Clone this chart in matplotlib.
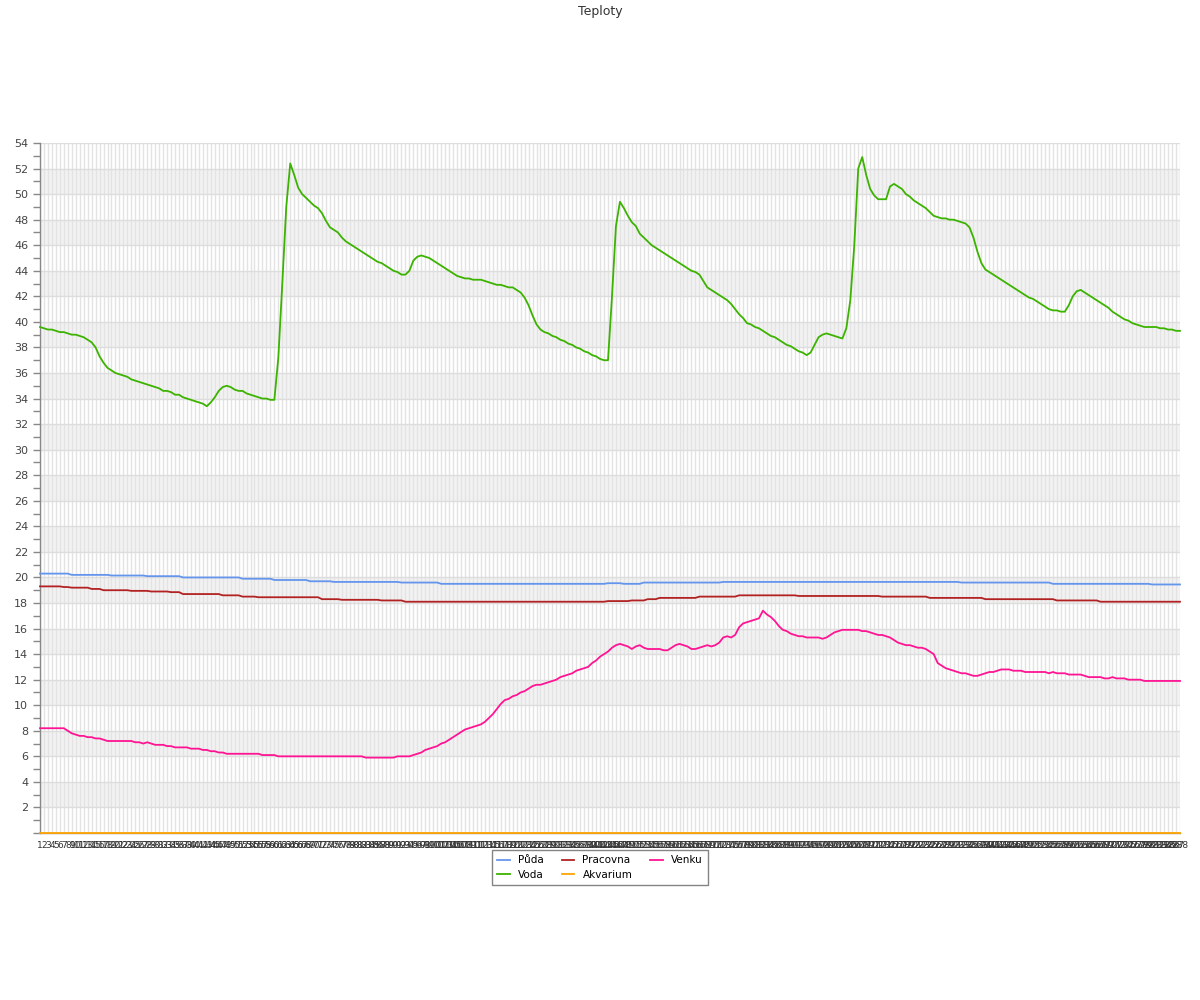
import matplotlib
matplotlib.use("Agg")
import matplotlib.pyplot as plt
from matplotlib.ticker import MultipleLocator

title = "Teploty"
series_names = ["Půda", "Voda", "Pracovna", "Akvarium", "Venku"]
series_colors = ["#6495ed", "#3cb300", "#b22222", "#ffa500", "#ff1493"]

puda = [
    20.3, 20.3, 20.3, 20.3, 20.3, 20.3, 20.3, 20.3, 20.2, 20.2, 20.2, 20.2,
    20.2, 20.2, 20.2, 20.2, 20.2, 20.2, 20.15, 20.15, 20.15, 20.15, 20.15, 20.15,
    20.15, 20.15, 20.15, 20.1, 20.1, 20.1, 20.1, 20.1, 20.1, 20.1, 20.1, 20.1,
    20.0, 20.0, 20.0, 20.0, 20.0, 20.0, 20.0, 20.0, 20.0, 20.0, 20.0, 20.0,
    20.0, 20.0, 20.0, 19.9, 19.9, 19.9, 19.9, 19.9, 19.9, 19.9, 19.9, 19.8,
    19.8, 19.8, 19.8, 19.8, 19.8, 19.8, 19.8, 19.8, 19.7, 19.7, 19.7, 19.7,
    19.7, 19.7, 19.65, 19.65, 19.65, 19.65, 19.65, 19.65, 19.65, 19.65, 19.65, 19.65,
    19.65, 19.65, 19.65, 19.65, 19.65, 19.65, 19.65, 19.6, 19.6, 19.6, 19.6, 19.6,
    19.6, 19.6, 19.6, 19.6, 19.6, 19.5, 19.5, 19.5, 19.5, 19.5, 19.5, 19.5,
    19.5, 19.5, 19.5, 19.5, 19.5, 19.5, 19.5, 19.5, 19.5, 19.5, 19.5, 19.5,
    19.5, 19.5, 19.5, 19.5, 19.5, 19.5, 19.5, 19.5, 19.5, 19.5, 19.5, 19.5,
    19.5, 19.5, 19.5, 19.5, 19.5, 19.5, 19.5, 19.5, 19.5, 19.5, 19.5, 19.55,
    19.55, 19.55, 19.55, 19.5, 19.5, 19.5, 19.5, 19.5, 19.6, 19.6, 19.6, 19.6,
    19.6, 19.6, 19.6, 19.6, 19.6, 19.6, 19.6, 19.6, 19.6, 19.6, 19.6, 19.6,
    19.6, 19.6, 19.6, 19.6, 19.65, 19.65, 19.65, 19.65, 19.65, 19.65, 19.65, 19.65,
    19.65, 19.65, 19.65, 19.65, 19.65, 19.65, 19.65, 19.65, 19.65, 19.65, 19.65, 19.65,
    19.65, 19.65, 19.65, 19.65, 19.65, 19.65, 19.65, 19.65, 19.65, 19.65, 19.65, 19.65,
    19.65, 19.65, 19.65, 19.65, 19.65, 19.65, 19.65, 19.65, 19.65, 19.65, 19.65, 19.65,
    19.65, 19.65, 19.65, 19.65, 19.65, 19.65, 19.65, 19.65, 19.65, 19.65, 19.65, 19.65,
    19.65, 19.65, 19.65, 19.65, 19.6, 19.6, 19.6, 19.6, 19.6, 19.6, 19.6, 19.6,
    19.6, 19.6, 19.6, 19.6, 19.6, 19.6, 19.6, 19.6, 19.6, 19.6, 19.6, 19.6,
    19.6, 19.6, 19.6, 19.5, 19.5, 19.5, 19.5, 19.5, 19.5, 19.5, 19.5, 19.5,
    19.5, 19.5, 19.5, 19.5, 19.5, 19.5, 19.5, 19.5, 19.5, 19.5, 19.5, 19.5,
    19.5, 19.5, 19.5, 19.5, 19.45, 19.45, 19.45, 19.45, 19.45, 19.45, 19.45, 19.45,
]

voda = [
    39.6, 39.5, 39.4, 39.4, 39.3, 39.2, 39.2, 39.1, 39.0, 39.0, 38.9, 38.8,
    38.6, 38.4, 38.0, 37.3, 36.8, 36.4, 36.2, 36.0, 35.9, 35.8, 35.7, 35.5,
    35.4, 35.3, 35.2, 35.1, 35.0, 34.9, 34.8, 34.6, 34.6, 34.5, 34.3, 34.3,
    34.1, 34.0, 33.9, 33.8, 33.7, 33.6, 33.4, 33.7, 34.1, 34.6, 34.9, 35.0,
    34.9, 34.7, 34.6, 34.6, 34.4, 34.3, 34.2, 34.1, 34.0, 34.0, 33.9, 33.9,
    37.2, 43.0, 49.0, 52.4, 51.5, 50.5, 50.0, 49.7, 49.4, 49.1, 48.9, 48.5,
    47.9, 47.4, 47.2, 47.0, 46.6, 46.3, 46.1, 45.9, 45.7, 45.5, 45.3, 45.1,
    44.9, 44.7, 44.6, 44.4, 44.2, 44.0, 43.9, 43.7, 43.7, 44.0, 44.8, 45.1,
    45.2, 45.1, 45.0, 44.8, 44.6, 44.4, 44.2, 44.0, 43.8, 43.6, 43.5, 43.4,
    43.4, 43.3, 43.3, 43.3, 43.2, 43.1, 43.0, 42.9, 42.9, 42.8, 42.7, 42.7,
    42.5, 42.3, 41.9, 41.3, 40.5, 39.8, 39.4, 39.2, 39.1, 38.9, 38.8, 38.6,
    38.5, 38.3, 38.2, 38.0, 37.9, 37.7, 37.6, 37.4, 37.3, 37.1, 37.0, 37.0,
    42.0, 47.5, 49.4, 48.9, 48.3, 47.8, 47.5, 46.9, 46.6, 46.3, 46.0, 45.8,
    45.6, 45.4, 45.2, 45.0, 44.8, 44.6, 44.4, 44.2, 44.0, 43.9, 43.7, 43.2,
    42.7, 42.5, 42.3, 42.1, 41.9, 41.7, 41.4, 41.0, 40.6, 40.3, 39.9, 39.8,
    39.6, 39.5, 39.3, 39.1, 38.9, 38.8, 38.6, 38.4, 38.2, 38.1, 37.9, 37.7,
    37.6, 37.4, 37.6, 38.2, 38.8, 39.0, 39.1, 39.0, 38.9, 38.8, 38.7, 39.5,
    41.7, 46.0, 52.0, 52.9, 51.5, 50.4, 49.9, 49.6, 49.6, 49.6, 50.6, 50.8,
    50.6, 50.4, 50.0, 49.8, 49.5, 49.3, 49.1, 48.9, 48.6, 48.3, 48.2, 48.1,
    48.1, 48.0, 48.0, 47.9, 47.8, 47.7, 47.4, 46.6, 45.5, 44.6, 44.1, 43.9,
    43.7, 43.5, 43.3, 43.1, 42.9, 42.7, 42.5, 42.3, 42.1, 41.9, 41.8, 41.6,
    41.4, 41.2, 41.0, 40.9, 40.9, 40.8, 40.8, 41.3, 42.0, 42.4, 42.5, 42.3,
    42.1, 41.9, 41.7, 41.5, 41.3, 41.1, 40.8, 40.6, 40.4, 40.2, 40.1, 39.9,
    39.8, 39.7, 39.6, 39.6, 39.6, 39.6, 39.5, 39.5, 39.4, 39.4, 39.3, 39.3,
]

pracovna = [
    19.3, 19.3, 19.3, 19.3, 19.3, 19.3, 19.25, 19.25, 19.2, 19.2, 19.2, 19.2,
    19.2, 19.1, 19.1, 19.1, 19.0, 19.0, 19.0, 19.0, 19.0, 19.0, 19.0, 18.95,
    18.95, 18.95, 18.95, 18.95, 18.9, 18.9, 18.9, 18.9, 18.9, 18.85, 18.85, 18.85,
    18.7, 18.7, 18.7, 18.7, 18.7, 18.7, 18.7, 18.7, 18.7, 18.7, 18.6, 18.6,
    18.6, 18.6, 18.6, 18.5, 18.5, 18.5, 18.5, 18.45, 18.45, 18.45, 18.45, 18.45,
    18.45, 18.45, 18.45, 18.45, 18.45, 18.45, 18.45, 18.45, 18.45, 18.45, 18.45, 18.3,
    18.3, 18.3, 18.3, 18.3, 18.25, 18.25, 18.25, 18.25, 18.25, 18.25, 18.25, 18.25,
    18.25, 18.25, 18.2, 18.2, 18.2, 18.2, 18.2, 18.2, 18.1, 18.1, 18.1, 18.1,
    18.1, 18.1, 18.1, 18.1, 18.1, 18.1, 18.1, 18.1, 18.1, 18.1, 18.1, 18.1,
    18.1, 18.1, 18.1, 18.1, 18.1, 18.1, 18.1, 18.1, 18.1, 18.1, 18.1, 18.1,
    18.1, 18.1, 18.1, 18.1, 18.1, 18.1, 18.1, 18.1, 18.1, 18.1, 18.1, 18.1,
    18.1, 18.1, 18.1, 18.1, 18.1, 18.1, 18.1, 18.1, 18.1, 18.1, 18.1, 18.15,
    18.15, 18.15, 18.15, 18.15, 18.15, 18.2, 18.2, 18.2, 18.2, 18.3, 18.3, 18.3,
    18.4, 18.4, 18.4, 18.4, 18.4, 18.4, 18.4, 18.4, 18.4, 18.4, 18.5, 18.5,
    18.5, 18.5, 18.5, 18.5, 18.5, 18.5, 18.5, 18.5, 18.6, 18.6, 18.6, 18.6,
    18.6, 18.6, 18.6, 18.6, 18.6, 18.6, 18.6, 18.6, 18.6, 18.6, 18.6, 18.55,
    18.55, 18.55, 18.55, 18.55, 18.55, 18.55, 18.55, 18.55, 18.55, 18.55, 18.55, 18.55,
    18.55, 18.55, 18.55, 18.55, 18.55, 18.55, 18.55, 18.55, 18.5, 18.5, 18.5, 18.5,
    18.5, 18.5, 18.5, 18.5, 18.5, 18.5, 18.5, 18.5, 18.4, 18.4, 18.4, 18.4,
    18.4, 18.4, 18.4, 18.4, 18.4, 18.4, 18.4, 18.4, 18.4, 18.4, 18.3, 18.3,
    18.3, 18.3, 18.3, 18.3, 18.3, 18.3, 18.3, 18.3, 18.3, 18.3, 18.3, 18.3,
    18.3, 18.3, 18.3, 18.3, 18.2, 18.2, 18.2, 18.2, 18.2, 18.2, 18.2, 18.2,
    18.2, 18.2, 18.2, 18.1, 18.1, 18.1, 18.1, 18.1, 18.1, 18.1, 18.1, 18.1,
    18.1, 18.1, 18.1, 18.1, 18.1, 18.1, 18.1, 18.1, 18.1, 18.1, 18.1, 18.1,
]

akvarium = [
    0.0, 0.0, 0.0, 0.0, 0.0, 0.0, 0.0, 0.0, 0.0, 0.0, 0.0, 0.0,
    0.0, 0.0, 0.0, 0.0, 0.0, 0.0, 0.0, 0.0, 0.0, 0.0, 0.0, 0.0,
    0.0, 0.0, 0.0, 0.0, 0.0, 0.0, 0.0, 0.0, 0.0, 0.0, 0.0, 0.0,
    0.0, 0.0, 0.0, 0.0, 0.0, 0.0, 0.0, 0.0, 0.0, 0.0, 0.0, 0.0,
    0.0, 0.0, 0.0, 0.0, 0.0, 0.0, 0.0, 0.0, 0.0, 0.0, 0.0, 0.0,
    0.0, 0.0, 0.0, 0.0, 0.0, 0.0, 0.0, 0.0, 0.0, 0.0, 0.0, 0.0,
    0.0, 0.0, 0.0, 0.0, 0.0, 0.0, 0.0, 0.0, 0.0, 0.0, 0.0, 0.0,
    0.0, 0.0, 0.0, 0.0, 0.0, 0.0, 0.0, 0.0, 0.0, 0.0, 0.0, 0.0,
    0.0, 0.0, 0.0, 0.0, 0.0, 0.0, 0.0, 0.0, 0.0, 0.0, 0.0, 0.0,
    0.0, 0.0, 0.0, 0.0, 0.0, 0.0, 0.0, 0.0, 0.0, 0.0, 0.0, 0.0,
    0.0, 0.0, 0.0, 0.0, 0.0, 0.0, 0.0, 0.0, 0.0, 0.0, 0.0, 0.0,
    0.0, 0.0, 0.0, 0.0, 0.0, 0.0, 0.0, 0.0, 0.0, 0.0, 0.0, 0.0,
    0.0, 0.0, 0.0, 0.0, 0.0, 0.0, 0.0, 0.0, 0.0, 0.0, 0.0, 0.0,
    0.0, 0.0, 0.0, 0.0, 0.0, 0.0, 0.0, 0.0, 0.0, 0.0, 0.0, 0.0,
    0.0, 0.0, 0.0, 0.0, 0.0, 0.0, 0.0, 0.0, 0.0, 0.0, 0.0, 0.0,
    0.0, 0.0, 0.0, 0.0, 0.0, 0.0, 0.0, 0.0, 0.0, 0.0, 0.0, 0.0,
    0.0, 0.0, 0.0, 0.0, 0.0, 0.0, 0.0, 0.0, 0.0, 0.0, 0.0, 0.0,
    0.0, 0.0, 0.0, 0.0, 0.0, 0.0, 0.0, 0.0, 0.0, 0.0, 0.0, 0.0,
    0.0, 0.0, 0.0, 0.0, 0.0, 0.0, 0.0, 0.0, 0.0, 0.0, 0.0, 0.0,
    0.0, 0.0, 0.0, 0.0, 0.0, 0.0, 0.0, 0.0, 0.0, 0.0, 0.0, 0.0,
    0.0, 0.0, 0.0, 0.0, 0.0, 0.0, 0.0, 0.0, 0.0, 0.0, 0.0, 0.0,
    0.0, 0.0, 0.0, 0.0, 0.0, 0.0, 0.0, 0.0, 0.0, 0.0, 0.0, 0.0,
    0.0, 0.0, 0.0, 0.0, 0.0, 0.0, 0.0, 0.0, 0.0, 0.0, 0.0, 0.0,
    0.0, 0.0, 0.0, 0.0, 0.0, 0.0, 0.0, 0.0, 0.0, 0.0, 0.0, 0.0,
]

venku = [
    8.2, 8.2, 8.2, 8.2, 8.2, 8.2, 8.2, 8.0, 7.8, 7.7, 7.6, 7.6,
    7.5, 7.5, 7.4, 7.4, 7.3, 7.2, 7.2, 7.2, 7.2, 7.2, 7.2, 7.2,
    7.1, 7.1, 7.0, 7.1, 7.0, 6.9, 6.9, 6.9, 6.8, 6.8, 6.7, 6.7,
    6.7, 6.7, 6.6, 6.6, 6.6, 6.5, 6.5, 6.4, 6.4, 6.3, 6.3, 6.2,
    6.2, 6.2, 6.2, 6.2, 6.2, 6.2, 6.2, 6.2, 6.1, 6.1, 6.1, 6.1,
    6.0, 6.0, 6.0, 6.0, 6.0, 6.0, 6.0, 6.0, 6.0, 6.0, 6.0, 6.0,
    6.0, 6.0, 6.0, 6.0, 6.0, 6.0, 6.0, 6.0, 6.0, 6.0, 5.9, 5.9,
    5.9, 5.9, 5.9, 5.9, 5.9, 5.9, 6.0, 6.0, 6.0, 6.0, 6.1, 6.2,
    6.3, 6.5, 6.6, 6.7, 6.8, 7.0, 7.1, 7.3, 7.5, 7.7, 7.9, 8.1,
    8.2, 8.3, 8.4, 8.5, 8.7, 9.0, 9.3, 9.7, 10.1, 10.4, 10.5, 10.7,
    10.8, 11.0, 11.1, 11.3, 11.5, 11.6, 11.6, 11.7, 11.8, 11.9, 12.0, 12.2,
    12.3, 12.4, 12.5, 12.7, 12.8, 12.9, 13.0, 13.3, 13.5, 13.8, 14.0, 14.2,
    14.5, 14.7, 14.8, 14.7, 14.6, 14.4, 14.6, 14.7, 14.5, 14.4, 14.4, 14.4,
    14.4, 14.3, 14.3, 14.5, 14.7, 14.8, 14.7, 14.6, 14.4, 14.4, 14.5, 14.6,
    14.7, 14.6, 14.7, 14.9, 15.3, 15.4, 15.3, 15.5, 16.1, 16.4, 16.5, 16.6,
    16.7, 16.8, 17.4, 17.1, 16.9, 16.6, 16.2, 15.9, 15.8, 15.6, 15.5, 15.4,
    15.4, 15.3, 15.3, 15.3, 15.3, 15.2, 15.3, 15.5, 15.7, 15.8, 15.9, 15.9,
    15.9, 15.9, 15.9, 15.8, 15.8, 15.7, 15.6, 15.5, 15.5, 15.4, 15.3, 15.1,
    14.9, 14.8, 14.7, 14.7, 14.6, 14.5, 14.5, 14.4, 14.2, 14.0, 13.3, 13.1,
    12.9, 12.8, 12.7, 12.6, 12.5, 12.5, 12.4, 12.3, 12.3, 12.4, 12.5, 12.6,
    12.6, 12.7, 12.8, 12.8, 12.8, 12.7, 12.7, 12.7, 12.6, 12.6, 12.6, 12.6,
    12.6, 12.6, 12.5, 12.6, 12.5, 12.5, 12.5, 12.4, 12.4, 12.4, 12.4, 12.3,
    12.2, 12.2, 12.2, 12.2, 12.1, 12.1, 12.2, 12.1, 12.1, 12.1, 12.0, 12.0,
    12.0, 12.0, 11.9, 11.9, 11.9, 11.9, 11.9, 11.9, 11.9, 11.9, 11.9, 11.9,
]

categories = [str(i) for i in range(1, len(voda) + 1)]
series_values = [puda, voda, pracovna, akvarium, venku]

y_max = 54
y_major = 2

fig = plt.figure(figsize=(12, 10), dpi=100)
ax = fig.add_axes([40 / 1200, 167 / 1000, 1140 / 1200, 690 / 1000])

x = list(range(len(categories)))
ax.set_xlim(0, len(categories) - 1)
ax.set_ylim(0, y_max)

# alternating bands
for lo in range(2, y_max, 4):
    ax.axhspan(lo, lo + 2, color="#f2f2f2", zorder=0, lw=0)

ax.set_xticks(x)
ax.set_xticklabels(categories, fontsize=6.5, color="#333333")
ax.yaxis.set_major_locator(MultipleLocator(y_major))
ax.yaxis.set_minor_locator(MultipleLocator(1))
ax.grid(axis="x", which="major", color="#e3e3e3", lw=1, zorder=0.5)
ax.grid(axis="y", which="major", color="#dddddd", lw=1, zorder=0.6)
ax.set_axisbelow(True)

yt = list(range(0, y_max + 1, y_major))
ax.set_yticks(yt)
ax.set_yticklabels(["" if v == 0 else str(v) for v in yt], fontsize=8, color="#444444")
ax.tick_params(axis="y", which="both", length=5, color="#888888", width=1)
ax.tick_params(axis="x", length=0, pad=6)

for s in ["top", "right"]:
    ax.spines[s].set_visible(False)
for s in ["left", "bottom"]:
    ax.spines[s].set_color("#888888")
    ax.spines[s].set_linewidth(1)

handles = []
for name, vals, col in zip(series_names, series_values, series_colors):
    (h,) = ax.plot(x, vals, color=col, lw=1.3, label=name, zorder=3, clip_on=False)
    handles.append(h)

fig.text(0.5, 1 - 11 / 1000, title, ha="center", va="center", fontsize=9, color="#333333")

leg = fig.legend(handles=handles, labels=series_names, loc="upper center",
                 bbox_to_anchor=(0.5, 1 - 850 / 1000), borderaxespad=0.0,
                 ncol=3, fontsize=7.5,
                 frameon=True, fancybox=False, edgecolor="#666666",
                 handlelength=1.2, handletextpad=0.8, columnspacing=1.7,
                 borderpad=0.5, labelspacing=0.45)
leg.get_frame().set_linewidth(1)

fig.savefig("out.png", dpi=100, facecolor="white")
